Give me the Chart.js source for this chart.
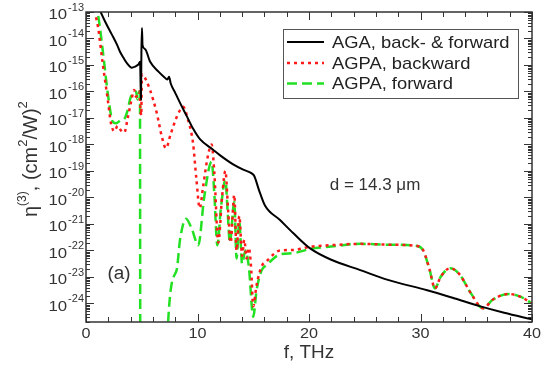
<!DOCTYPE html>
<html>
<head>
<meta charset="utf-8">
<script src="https://cdn.jsdelivr.net/npm/chart.js@4"></script>
<style>
  html, body { margin: 0; padding: 0; background: #fff; }
  canvas { display: block; }
</style>
</head>
<body>
<canvas id="grafica" width="548" height="368"></canvas>
<script>
// frequency grid (THz) and log10(eta) read per curve
const agaF = [1.0, 1.26, 1.7, 2.15, 2.45, 2.8, 3.05, 3.35, 3.7, 4.1, 4.4, 4.7, 4.85, 4.93, 4.97, 5.02, 5.07, 5.3, 5.74, 6.5, 7.0, 7.3, 7.45, 7.6, 8.0, 8.4, 9.0, 9.6, 10.22, 11.4, 12.0, 13.2, 14.1, 14.86, 15.1, 15.5, 16.05, 17.4, 18.6, 20.1, 22, 24.6, 27, 30.6, 33, 35.3, 37.5, 40];
const agaLog = [-12.7, -12.95, -13.35, -13.72, -13.95, -14.25, -14.5, -14.72, -14.95, -15.1, -15.06, -14.98, -14.88, -16.3, -14.5, -13.6, -14.25, -14.4, -14.87, -15.25, -15.45, -15.55, -15.44, -15.7, -16.05, -16.4, -16.9, -17.4, -17.8, -18.2, -18.4, -18.75, -18.95, -19.09, -19.2, -19.7, -20.3, -20.85, -21.35, -21.92, -22.35, -22.74, -23.1, -23.5, -23.8, -24.1, -24.35, -24.6];

const backF = [0.9, 1.08, 1.5, 1.95, 2.24, 2.54, 2.84, 3.1, 3.44, 3.74, 4.04, 4.33, 4.48, 4.63, 4.78, 4.88, 4.95, 5.02, 5.14, 5.74, 6.34, 6.8, 7.17, 7.6, 8.2, 8.73, 9.1, 9.6, 9.9, 10.2, 10.5, 10.9, 11.27, 11.5, 11.87, 12.2, 12.5, 12.75, 12.97, 13.3, 13.5, 13.75, 14.0, 14.2, 14.4, 14.6, 14.8, 15.0, 15.3, 15.75, 16.2, 17.4, 18.6, 20.1, 22, 24.6, 27, 29.7, 30.25, 30.8, 31.3, 31.8, 32.65, 33.5, 34.5, 35.6, 36.5, 37.9, 39, 40];
const backLog = [-13.2, -13.57, -14.95, -16.3, -17.2, -17.5, -17.3, -17.45, -17.55, -17.0, -16.4, -15.94, -16.2, -16.1, -16.0, -16.6, -16.9, -15.35, -15.38, -15.94, -16.8, -17.7, -18.14, -17.6, -16.9, -16.58, -17.0, -17.95, -19.3, -20.4, -19.6, -18.5, -18.0, -19.0, -21.7, -20.0, -19.0, -20.5, -21.7, -19.9, -22.0, -20.7, -22.2, -21.6, -22.3, -21.9, -22.6, -24.1, -23.3, -22.6, -22.4, -22.0, -21.98, -21.86, -21.8, -21.75, -21.78, -21.83, -22.0, -22.7, -23.43, -23.0, -22.67, -22.9, -23.6, -24.18, -23.85, -23.64, -23.75, -24.0];

// forward branch vanishes between ~4.9 and ~7.2 THz (values far below the axis)
const fwdF = [0.8, 1.08, 1.6, 1.95, 2.4, 2.7, 3.14, 3.4, 3.74, 3.95, 4.19, 4.48, 4.63, 4.78, 4.84, 4.88, 7.2, 7.38, 8.13, 8.43, 8.97, 9.5, 10.07, 10.6, 11.27, 11.5, 11.78, 12.1, 12.5, 12.7, 12.9, 13.3, 13.5, 13.75, 14.0, 14.3, 14.6, 15.0, 15.3, 15.75, 16.2, 17.4, 18.6, 20.1, 22, 24.6, 27, 29.7, 30.25, 30.8, 31.3, 31.8, 32.65, 33.5, 34.5, 35.6, 36.5, 37.9, 39, 40];
const fwdLog = [-12.6, -13.1, -14.8, -16.06, -17.14, -17.2, -17.08, -17.05, -16.7, -16.3, -16.06, -16.0, -16.3, -16.0, -16.2, -30, -30, -24.6, -22.74, -21.6, -20.8, -21.2, -21.8, -20.0, -18.65, -19.8, -21.8, -20.4, -19.34, -20.5, -21.7, -20.16, -22.3, -20.9, -22.5, -22.0, -22.6, -24.5, -23.5, -22.75, -22.55, -22.15, -22.1, -21.94, -21.85, -21.75, -21.78, -21.83, -22.0, -22.7, -23.43, -23.0, -22.67, -22.9, -23.6, -24.18, -23.85, -23.64, -23.75, -24.0];

const xTicks = [0, 10, 20, 30, 40];
const yDecadas = [-24, -23, -22, -21, -20, -19, -18, -17, -16, -15, -14, -13];
const etiquetas = ['AGA, back- & forward', 'AGPA, backward', 'AGPA, forward'];

const FUENTE = '"Liberation Sans", Arial, Helvetica, sans-serif';

function puntos(fs, logs) { return fs.map((f, i) => ({ x: f, y: Math.pow(10, logs[i]) })); }

function texto(ctx, s, x, y, size, align, sx, base) {
    ctx.save();
    ctx.font = size + 'px ' + FUENTE;
    ctx.translate(x, y);
    ctx.scale(sx || 1, 1);
    ctx.textAlign = align || 'left';
    ctx.textBaseline = base || 'middle';
    ctx.fillText(s, 0, 0);
    ctx.restore();
}
function ancho(ctx, s, size, sx) {
    ctx.font = size + 'px ' + FUENTE;
    return ctx.measureText(s).width * (sx || 1);
}

// frame, inward ticks, labels, legend and notes
const marco = {
    id: 'marco',
    afterDraw(chart) {
        const ctx = chart.ctx, a = chart.chartArea;
        const sx = chart.scales.x, sy = chart.scales.y;
        ctx.save();
        ctx.strokeStyle = '#333';
        ctx.fillStyle = '#333';

        // ticks
        ctx.lineWidth = 1;
        ctx.beginPath();
        for (let e = -25; e <= -13; e++) {
            for (let m = 1; m <= 9; m++) {
                const v = m * Math.pow(10, e);
                if (v < sy.min * 0.999 || v > sy.max * 1.001) continue;
                const py = Math.round(sy.getPixelForValue(v)) + 0.5;
                const len = m === 1 ? 8 : 4;
                ctx.moveTo(a.left, py); ctx.lineTo(a.left + len, py);
                ctx.moveTo(a.right, py); ctx.lineTo(a.right - len, py);
            }
        }
        for (let f = 0; f <= 40; f += 2) {
            const px = Math.round(sx.getPixelForValue(f)) + 0.5;
            const len = f % 10 === 0 ? 8 : 5;
            ctx.moveTo(px, a.bottom); ctx.lineTo(px, a.bottom - len);
            ctx.moveTo(px, a.top); ctx.lineTo(px, a.top + len);
        }
        ctx.stroke();

        ctx.lineWidth = 1.5;
        ctx.strokeRect(a.left, a.top, a.right - a.left, a.bottom - a.top);

        // x tick labels
        xTicks.forEach(f => texto(ctx, String(f), sx.getPixelForValue(f), a.bottom + 12, 15, 'center', 1.08));

        // y tick labels 10^n
        yDecadas.forEach(e => {
            const py = sy.getPixelForValue(Math.pow(10, e));
            const sup = '-' + Math.abs(e);
            const w = ancho(ctx, sup, 10, 1.1);
            texto(ctx, sup, a.left - 2, py - 4, 10, 'right', 1.1);
            texto(ctx, '10', a.left - 3 - w, py + 3, 15, 'right', 1.12);
        });

        // axis titles
        texto(ctx, 'f, THz', (a.left + a.right) / 2, 353, 18, 'center', 1.05);

        ctx.save();
        ctx.translate(37, 217);
        ctx.rotate(-Math.PI / 2);
        let cx = 0;
        const parte = (s, size, dy) => {
            ctx.font = size + 'px ' + FUENTE;
            ctx.textBaseline = 'alphabetic';
            ctx.textAlign = 'left';
            ctx.fillText(s, cx, dy);
            cx += ctx.measureText(s).width;
        };
        parte('η', 20, 0);
        parte('(3)', 12, -11);
        parte(', (cm', 20, 0);
        parte('2', 13, -10);
        parte('/W)', 20, 0);
        parte('2', 13, -10);
        ctx.restore();

        // notes inside the plot
        texto(ctx, 'd = 14.3 μm', 375, 185, 17, 'center', 1.0);
        texto(ctx, '(a)', 119, 274, 18, 'center', 1.05);

        // legend
        ctx.fillStyle = '#fff';
        ctx.fillRect(283, 29.5, 235, 69);
        ctx.strokeStyle = '#555';
        ctx.lineWidth = 1;
        ctx.strokeRect(283.5, 29.5, 235, 69);
        const filas = [42, 63, 83.5];
        chart.data.datasets.forEach((ds, i) => {
            ctx.save();
            ctx.strokeStyle = ds.borderColor;
            ctx.lineWidth = ds.borderWidth;
            ctx.setLineDash(ds.borderDash || []);
            ctx.beginPath();
            ctx.moveTo(287, filas[i]); ctx.lineTo(324, filas[i]);
            ctx.stroke();
            ctx.restore();
            ctx.fillStyle = '#222';
            texto(ctx, ds.label, 332, filas[i] + 1, 17, 'left', 1.08);
        });
        ctx.restore();
    }
};

const ctx = document.getElementById('grafica').getContext('2d');
new Chart(ctx, {
    type: 'line',
    data: {
        datasets: [
            { label: etiquetas[0], data: puntos(agaF, agaLog), borderColor: '#000000', borderWidth: 2, cubicInterpolationMode: 'monotone' },
            { label: etiquetas[1], data: puntos(backF, backLog), borderColor: '#ff1a1a', borderWidth: 2.5, borderDash: [3, 4], cubicInterpolationMode: 'monotone' },
            { label: etiquetas[2], data: puntos(fwdF, fwdLog), borderColor: '#22e022', borderWidth: 2.5, borderDash: [10, 5], cubicInterpolationMode: 'monotone' }
        ]
    },
    options: {
        responsive: false,
        animation: false,
        layout: { padding: { left: 86, right: 16, top: 12, bottom: 46 } },
        elements: { point: { radius: 0 } },
        plugins: { legend: { display: false }, tooltip: { enabled: false } },
        scales: {
            x: { type: 'linear', min: 0, max: 40, display: false },
            y: { type: 'logarithmic', min: 2e-25, max: 1e-13, display: false }
        }
    },
    plugins: [marco]
});
</script>
</body>
</html>
